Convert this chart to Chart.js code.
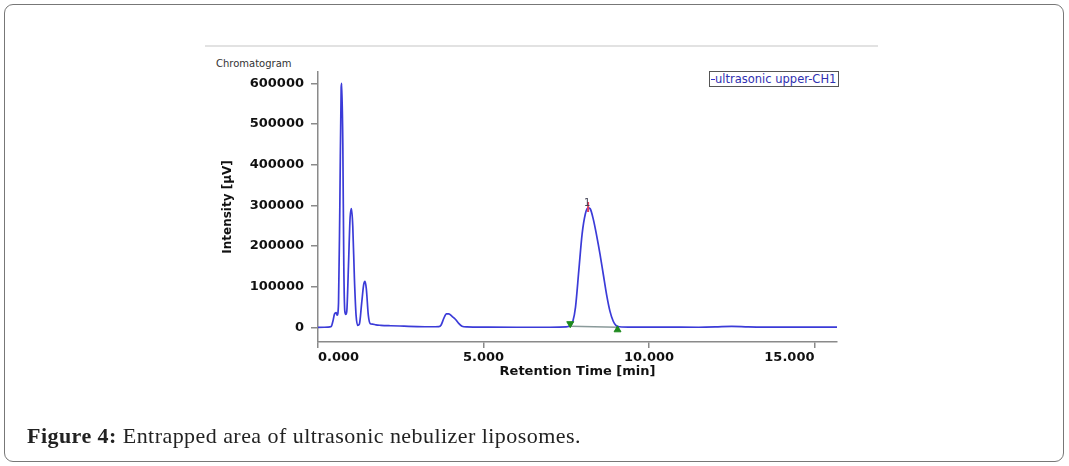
<!DOCTYPE html>
<html>
<head>
<meta charset="utf-8">
<script src="https://cdn.jsdelivr.net/npm/chart.js@4.4.0/dist/chart.umd.min.js"></script>
<style>
  html, body { margin: 0; padding: 0; background: #fff; }
  #wrap { position: relative; width: 1069px; height: 466px; overflow: hidden; }
  #frame { position: absolute; left: 4px; top: 4px; width: 1058px; height: 456px; border: 1px solid #777; border-radius: 9px; }
  #topline { position: absolute; left: 205px; top: 45px; width: 673px; height: 2px; background: #e2e2e2; }
  #chromTitle { position: absolute; left: 216px; top: 58px; font: 10px "DejaVu Sans", sans-serif; color: #333; }
  #legendBox { position: absolute; left: 709px; top: 71px; height: 14px; padding: 0 2px 0 1px; border: 1.5px solid #555;
    font: 11.5px "DejaVu Sans", sans-serif; line-height: 14px; color: #3030b0; background: #fff; white-space: nowrap; }
  #legendBox span.ln { display: inline-block; width: 4px; height: 1.5px; background: #3535d0; vertical-align: middle; }
  #caption { position: absolute; left: 27px; top: 423px; font: 22px "Liberation Serif", "DejaVu Serif", serif; letter-spacing: 0.45px; color: #222; }
  #caption b { font-weight: bold; }
  canvas { position: absolute; left: 0; top: 0; }
</style>
</head>
<body>
<div id="wrap">
  <div id="frame"></div>
  <div id="topline"></div>
  <div id="chromTitle">Chromatogram</div>
  <canvas id="chart" width="1069" height="466"></canvas>
  <div id="legendBox"><span class="ln"></span>ultrasonic upper-CH1</div>
  <div id="caption"><b>Figure 4:</b> Entrapped area of ultrasonic nebulizer liposomes.</div>
</div>
<script>
// Signal trace (retention time in min, intensity in µV)
const retentionTimes = [
  0.00, 0.30, 0.40, 0.45, 0.50, 0.55, 0.58, 0.62, 0.66, 0.70, 0.72, 0.75, 0.78, 0.81, 0.84, 0.87,
  0.92, 0.97, 1.01, 1.05, 1.10, 1.15, 1.20, 1.25, 1.32, 1.38, 1.42, 1.46, 1.52, 1.58, 1.65, 1.75,
  1.90, 2.20, 2.60, 3.00, 3.40, 3.65, 3.72, 3.80, 3.88, 3.95, 4.05, 4.15, 4.25, 4.35, 4.50, 5.00,
  6.00, 7.00, 7.50, 7.62, 7.70, 7.78, 7.88, 7.98, 8.08, 8.16, 8.22, 8.32, 8.42, 8.52, 8.62, 8.72,
  8.82, 8.92, 9.00, 9.10, 9.50, 10.50, 11.50, 12.00, 12.50, 13.00, 13.50, 15.70
];
const intensities = [
  0, 500, 2000, 15000, 33000, 36000, 30000, 60000, 300000, 590000, 600000, 450000, 150000, 40000, 32000, 40000,
  150000, 270000, 292000, 250000, 120000, 30000, 5000, 8000, 60000, 105000, 113000, 95000, 30000, 9000, 8000, 6000,
  5000, 4000, 3000, 2000, 1500, 2000, 6000, 22000, 33000, 33000, 27000, 20000, 10000, 3000, 1000, 500,
  300, 300, 1000, 5000, 15000, 50000, 140000, 230000, 280000, 294000, 292000, 265000, 225000, 180000, 130000, 80000,
  40000, 15000, 5000, 1500, 500, 500, 300, 1000, 2500, 1000, 500, 500
];

// Peak 1 integration marks
const peakStart = [7.62, 9000];
const peakEnd = [9.05, -6000];
const peakApex = [8.16, 296000];
const peakLabel = "1";

const xTicks = [0, 5, 10, 15];
const yTicks = [0, 100000, 200000, 300000, 400000, 500000, 600000];

const trace = retentionTimes.map((t, i) => ({ x: t, y: intensities[i] }));

const peakNumberPlugin = {
  id: "peakNumber",
  afterDatasetsDraw(chart) {
    const { ctx, scales } = chart;
    const px = scales.x.getPixelForValue(peakApex[0]);
    const py = scales.y.getPixelForValue(peakApex[1]);
    ctx.save();
    ctx.font = "10px 'DejaVu Sans'";
    ctx.fillStyle = "#445";
    ctx.textAlign = "center";
    ctx.textBaseline = "bottom";
    ctx.fillText(peakLabel, px - 1, py + 1);
    ctx.restore();
  }
};

const axisGray = "#8a8a8a";
const tickFont = { family: "DejaVu Sans", size: 13, weight: "bold" };

new Chart(document.getElementById("chart"), {
  type: "line",
  data: {
    datasets: [
      {
        label: "ultrasonic upper-CH1",
        data: trace,
        borderColor: "#3b3bd8",
        borderWidth: 1.7,
        pointRadius: 0,
        cubicInterpolationMode: "monotone",
        fill: false,
        order: 2
      },
      {
        label: "baseline",
        data: [{ x: peakStart[0], y: 3000 }, { x: peakEnd[0], y: 0 }],
        borderColor: "#8a9a9a",
        borderWidth: 1.5,
        pointRadius: 0,
        order: 3
      },
      {
        label: "start",
        data: [{ x: peakStart[0], y: peakStart[1] }],
        showLine: false,
        pointStyle: "triangle",
        rotation: 180,
        pointRadius: 4,
        backgroundColor: "#1e8a1e",
        borderColor: "#1e8a1e",
        order: 1
      },
      {
        label: "end",
        data: [{ x: peakEnd[0], y: peakEnd[1] }],
        showLine: false,
        pointStyle: "triangle",
        pointRadius: 4,
        backgroundColor: "#1e8a1e",
        borderColor: "#1e8a1e",
        order: 1
      },
      {
        label: "apex",
        data: [{ x: peakApex[0], y: peakApex[1] }],
        showLine: false,
        pointStyle: "line",
        rotation: 90,
        pointRadius: 5,
        borderWidth: 2,
        borderColor: "#e04060",
        order: 1
      }
    ]
  },
  options: {
    responsive: false,
    animation: false,
    layout: { padding: { left: 215, top: 72, right: 232, bottom: 79 } },
    plugins: { legend: { display: false }, tooltip: { enabled: false } },
    scales: {
      x: {
        type: "linear",
        min: 0,
        max: 15.68,
        afterFit: (s) => { s.height = 45; },
        afterBuildTicks: (s) => { s.ticks = xTicks.map(v => ({ value: v })); },
        border: { color: axisGray, width: 1.5 },
        grid: { drawOnChartArea: false, tickLength: 6, color: axisGray, lineWidth: 1.5 },
        ticks: {
          align: "inner",
          padding: 2,
          color: "#111",
          font: tickFont,
          callback: (v) => v.toFixed(3)
        },
        title: {
          display: true,
          text: "Retention Time [min]",
          color: "#111",
          font: tickFont,
          padding: { top: 0, bottom: 8 }
        }
      },
      y: {
        type: "linear",
        min: -36000,
        max: 628000,
        afterFit: (s) => { s.width = 103; },
        afterBuildTicks: (s) => { s.ticks = yTicks.map(v => ({ value: v })); },
        border: { color: axisGray, width: 1.5 },
        grid: { drawOnChartArea: false, tickLength: 7, color: axisGray, lineWidth: 1.5 },
        ticks: {
          padding: 7,
          color: "#111",
          font: tickFont,
          callback: (v) => String(v)
        },
        title: {
          display: true,
          text: "Intensity [μV]",
          color: "#111",
          font: { family: "DejaVu Sans", size: 12, weight: "bold" },
          padding: { top: 6, bottom: 0 }
        }
      }
    }
  },
  plugins: [peakNumberPlugin]
});
</script>
</body>
</html>
